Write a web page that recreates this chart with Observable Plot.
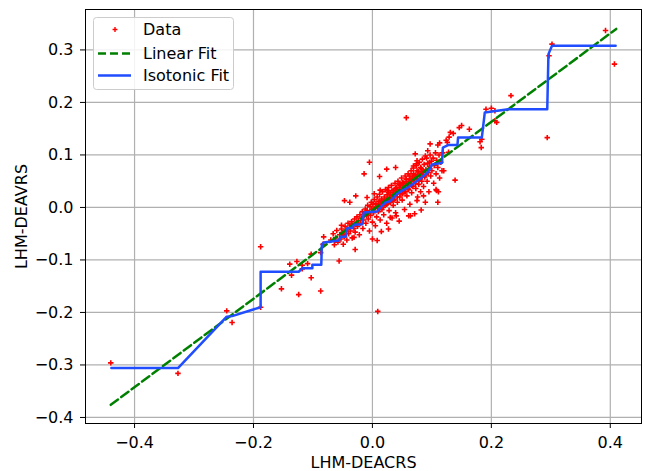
<!DOCTYPE html>
<html>
<head>
<meta charset="utf-8">
<script src="https://cdn.jsdelivr.net/npm/d3@7"></script>
<script src="https://cdn.jsdelivr.net/npm/@observablehq/plot@0.6"></script>
<style>
  html, body { margin: 0; padding: 0; background: #fff; }
  #chart { width: 645px; height: 471px; }
</style>
</head>
<body>
<div id="chart"></div>
<script>
// Sparse / outlying observations [LHM-DEACRS, LHM-DEAVRS]
const outlierPoints = [
  [-0.440,-0.296],[-0.327,-0.316],[-0.245,-0.197],[-0.236,-0.219],[-0.188,-0.075],[-0.188,-0.190],
  [-0.153,-0.155],[-0.139,-0.108],[-0.136,-0.129],[-0.127,-0.103],[-0.124,-0.166],[-0.118,-0.110],
  [-0.118,-0.117],[-0.109,-0.107],[-0.103,-0.134],[-0.103,-0.089],[-0.087,-0.159],[-0.087,-0.086],
  [-0.083,-0.070],[-0.082,-0.056],[-0.056,-0.102],[-0.029,-0.080],[0.009,-0.198],[0.008,-0.063],
  [-0.062,-0.063],[-0.052,-0.034],[-0.035,-0.032],
  [0.057,0.171],[-0.005,0.086],[-0.014,0.064],[0.012,0.059],[0.024,0.073],[0.039,0.076],
  [-0.047,0.013],[-0.038,0.010],[-0.028,0.022],[-0.009,0.019],[0.003,0.026],[0.015,-0.046],
  [0.027,-0.041],[0.000,-0.060],[-0.031,-0.057],[-0.048,-0.054],[0.061,-0.016],[0.082,-0.005],
  [0.108,0.032],[0.110,0.010],[0.139,0.052],[0.117,0.070],[0.097,0.121],[0.110,0.119],
  [0.124,0.128],[0.136,0.141],[0.146,0.152],[0.150,0.156],[0.163,0.149],[0.183,0.114],
  [0.181,0.125],[0.184,0.130],[0.191,0.187],[0.200,0.189],[0.206,0.184],[0.206,0.165],
  [0.209,0.162],[0.233,0.213],[0.294,0.133],[0.297,0.289],[0.302,0.311],[0.392,0.337],
  [0.407,0.273],[0.072,0.102],[0.093,0.108],[0.089,0.098],[0.131,0.143],[0.129,0.134],
  [0.126,0.124],[0.113,0.123],[0.128,0.105],[0.111,0.030],[0.107,0.034],[0.096,0.086],
  [0.074,0.083],[0.069,0.079],[0.075,0.089],[0.040,-0.016],[0.030,-0.019],[0.064,-0.016],
  [0.075,0.013],[0.086,0.022],[0.016,0.013],[0.025,0.032],[0.013,0.033]
];

// Dense central cluster
const clusterPoints = [
  [-0.070,-0.062],[-0.066,-0.050],[-0.064,-0.071],[-0.062,-0.058],[-0.060,-0.044],[-0.058,-0.066],
  [-0.055,-0.052],[-0.053,-0.060],[-0.052,-0.041],[-0.050,-0.048],[-0.049,-0.070],[-0.047,-0.055],
  [-0.046,-0.036],[-0.044,-0.043],[-0.043,-0.062],[-0.041,-0.030],[-0.040,-0.050],[-0.038,-0.038],
  [-0.037,-0.045],[-0.035,-0.027],[-0.034,-0.058],[-0.033,-0.034],[-0.031,-0.040],[-0.030,-0.022],
  [-0.029,-0.047],[-0.027,-0.030],[-0.026,-0.018],[-0.025,-0.036],[-0.023,-0.025],[-0.022,-0.052],
  [-0.021,-0.014],[-0.020,-0.030],[-0.018,-0.020],[-0.017,-0.008],[-0.016,-0.040],[-0.015,-0.024],
  [-0.013,-0.012],[-0.012,-0.003],[-0.011,-0.030],[-0.010,-0.016],[-0.009,-0.006],[-0.008,0.004],
  [-0.007,-0.022],[-0.006,-0.010],[-0.005,-0.045],[-0.004,0.002],[-0.003,-0.015],[-0.002,0.010],
  [-0.001,-0.004],[0.000,-0.028],[0.001,0.006],[0.002,-0.010],[0.003,0.015],[0.004,-0.002],
  [0.005,-0.035],[0.006,0.008],[0.007,-0.018],[0.008,0.020],[0.009,0.002],[0.010,-0.008],
  [0.011,0.012],[0.012,0.025],[0.013,-0.024],[0.014,0.006],[0.015,0.016],[0.016,-0.004],
  [0.017,0.030],[0.018,0.010],[0.019,-0.014],[0.020,0.020],[0.021,0.004],[0.022,0.034],
  [0.023,0.014],[0.024,-0.030],[0.025,0.024],[0.026,0.008],[0.027,0.038],[0.028,-0.006],
  [0.029,0.018],[0.030,0.028],[0.031,0.012],[0.032,0.042],[0.033,-0.020],[0.034,0.022],
  [0.035,0.004],[0.036,0.033],[0.037,0.016],[0.038,0.046],[0.039,-0.010],[0.040,0.026],
  [0.041,0.038],[0.042,0.010],[0.043,0.050],[0.044,0.030],[0.045,-0.026],[0.046,0.020],
  [0.047,0.042],[0.048,0.034],[0.049,0.056],[0.050,0.014],[0.051,0.026],[0.052,0.046],
  [0.053,0.038],[0.054,-0.004],[0.055,0.060],[0.056,0.030],[0.057,0.050],[0.058,0.022],
  [0.059,0.042],[0.060,0.064],[0.061,0.034],[0.062,0.054],[0.063,0.006],[0.064,0.046],
  [0.065,0.070],[0.066,0.028],[0.067,0.058],[0.068,0.040],[0.069,0.075],[0.070,0.050],
  [0.071,-0.012],[0.072,0.062],[0.073,0.036],[0.074,0.080],[0.075,0.054],[0.076,0.020],
  [0.077,0.068],[0.078,0.044],[0.079,0.086],[0.080,0.060],[0.081,0.030],[0.082,0.074],
  [0.083,0.050],[0.084,0.092],[0.085,0.066],[0.086,0.040],[0.087,0.082],[0.088,0.058],
  [0.089,0.010],[0.090,0.072],[0.091,0.094],[0.092,0.050],[0.093,0.084],[0.094,0.066],
  [0.095,0.030],[0.096,0.078],[0.097,0.100],[0.098,0.060],[0.099,0.088],[0.100,0.070],
  [0.102,0.094],[0.103,0.046],[0.104,0.080],[0.106,0.104],[0.107,0.064],[0.108,0.090],
  [0.110,0.076],[0.112,0.100],[0.113,0.056],[0.115,0.086],[0.118,0.104],[0.120,0.070],
  [0.005,0.000],[0.010,0.005],[0.015,0.008],[0.020,0.012],[0.025,0.016],[0.030,0.020],
  [0.035,0.025],[0.040,0.030],[0.045,0.034],[0.050,0.038],[0.055,0.042],[0.060,0.046],
  [0.065,0.051],[0.070,0.055],[0.075,0.060],[0.080,0.064],[0.085,0.069],[0.012,-0.004],
  [0.018,0.000],[0.024,0.006],[0.030,0.010],[0.036,0.014],[0.042,0.020],[0.048,0.026],
  [0.054,0.030],[0.060,0.036],[0.066,0.042],[0.072,0.046],[0.078,0.052],[0.084,0.058],
  [0.090,0.062],[0.027,0.028],[0.033,0.032],[0.039,0.036],[0.045,0.044],[0.051,0.048],
  [0.057,0.054],[0.063,0.060],[0.069,0.064],[0.075,0.070],[0.081,0.076]
];

// Linear fit end points
const linearX = [-0.44, 0.41];
const linearY = [-0.376, 0.340];

// Isotonic fit (step function)
const isoX = [-0.439,-0.327,-0.245,-0.236,-0.188,-0.188,-0.124,-0.118,-0.101,-0.101,-0.086,-0.085,-0.0816,
  -0.0565,-0.0536,-0.045,-0.042,-0.034,-0.031,-0.017,-0.0146,0.008,0.0134,0.022,0.030,0.036,0.041,0.050,
  0.061,0.072,0.083,0.093,0.098,0.100,0.117,0.1185,0.128,0.143,0.144,0.184,0.189,0.2285,0.294,0.296,0.302,0.409];
const isoY = [-0.306,-0.306,-0.208,-0.207,-0.190,-0.1225,-0.1225,-0.116,-0.116,-0.109,-0.109,-0.070,-0.0667,
  -0.063,-0.056,-0.056,-0.039,-0.039,-0.033,-0.032,-0.0095,-0.0076,0.000,0.0095,0.012,0.019,0.0255,0.032,
  0.039,0.048,0.057,0.067,0.076,0.082,0.0846,0.114,0.119,0.119,0.133,0.133,0.181,0.187,0.187,0.292,0.308,0.308];

const xTicks = [-0.4, -0.2, 0.0, 0.2, 0.4];
const yTicks = [-0.4, -0.3, -0.2, -0.1, 0.0, 0.1, 0.2, 0.3];

const seriesNames = ["Data", "Linear Fit", "Isotonic Fit"];
const colors = { data: "#ff0000", linear: "#008000", iso: "#1f4dff" };

const scatter = outlierPoints.concat(clusterPoints).map(([x, y]) => ({x, y}));
const linear = linearX.map((x, i) => ({x, y: linearY[i]}));
const iso = isoX.map((x, i) => ({x, y: isoY[i]}));

const fmt = d3.format(".1f");

const chart = Plot.plot({
  width: 645,
  height: 471,
  marginLeft: 85,
  marginRight: 4,
  marginTop: 9,
  marginBottom: 48,
  style: { fontFamily: "DejaVu Sans", fontSize: "16px", color: "#000", background: "#fff" },
  x: { domain: [-0.4825, 0.4525] },
  y: { domain: [-0.4115, 0.377] },
  marks: [
    Plot.gridX(xTicks, { stroke: "#b0b0b0", strokeOpacity: 1, strokeWidth: 1.2 }),
    Plot.gridY(yTicks, { stroke: "#b0b0b0", strokeOpacity: 1, strokeWidth: 1.2 }),
    Plot.axisX(xTicks, { tickSize: 5, tickPadding: 8, tickFormat: fmt, fontSize: 16,
      label: "LHM-DEACRS", labelAnchor: "center", labelArrow: "none", labelOffset: 44 }),
    Plot.axisY(yTicks, { tickSize: 5, tickPadding: 7, tickFormat: fmt, fontSize: 16,
      label: "LHM-DEAVRS", labelAnchor: "center", labelArrow: "none", labelOffset: 70 }),
    Plot.dot(scatter, { x: "x", y: "y", symbol: "plus", r: 1.9, stroke: colors.data, strokeWidth: 1.6, fill: "none" }),
    Plot.line(linear, { x: "x", y: "y", stroke: colors.linear, strokeWidth: 2.5, strokeDasharray: "9,4" }),
    Plot.line(iso, { x: "x", y: "y", stroke: colors.iso, strokeWidth: 2.5 }),
    Plot.frame({ stroke: "#000", strokeWidth: 1 })
  ]
});

document.getElementById("chart").appendChild(chart);

// Legend (upper left, inside the axes)
const svg = d3.select(chart);
const lg = svg.append("g").attr("font-family", "DejaVu Sans").attr("font-size", 16).attr("text-anchor", "start");
lg.append("rect").attr("x", 93.5).attr("y", 17.5).attr("width", 140).attr("height", 72)
  .attr("rx", 3).attr("fill", "#fff").attr("fill-opacity", 0.85).attr("stroke", "#cccccc");
lg.append("path").attr("d", d3.symbol(d3.symbolPlus, 9)())
  .attr("transform", "translate(115,29.5)").attr("stroke", colors.data).attr("stroke-width", 1.4).attr("fill", "none");
lg.append("line").attr("x1", 98).attr("x2", 131).attr("y1", 53.5).attr("y2", 53.5)
  .attr("stroke", colors.linear).attr("stroke-width", 2.5).attr("stroke-dasharray", "8,4");
lg.append("line").attr("x1", 98).attr("x2", 131).attr("y1", 75.5).attr("y2", 75.5)
  .attr("stroke", colors.iso).attr("stroke-width", 2.5);
[35.3, 59.3, 81.0].forEach((yy, i) => {
  lg.append("text").attr("x", 143).attr("y", yy).attr("fill", "#000").attr("text-anchor", "start").text(seriesNames[i]);
});
</script>
</body>
</html>
